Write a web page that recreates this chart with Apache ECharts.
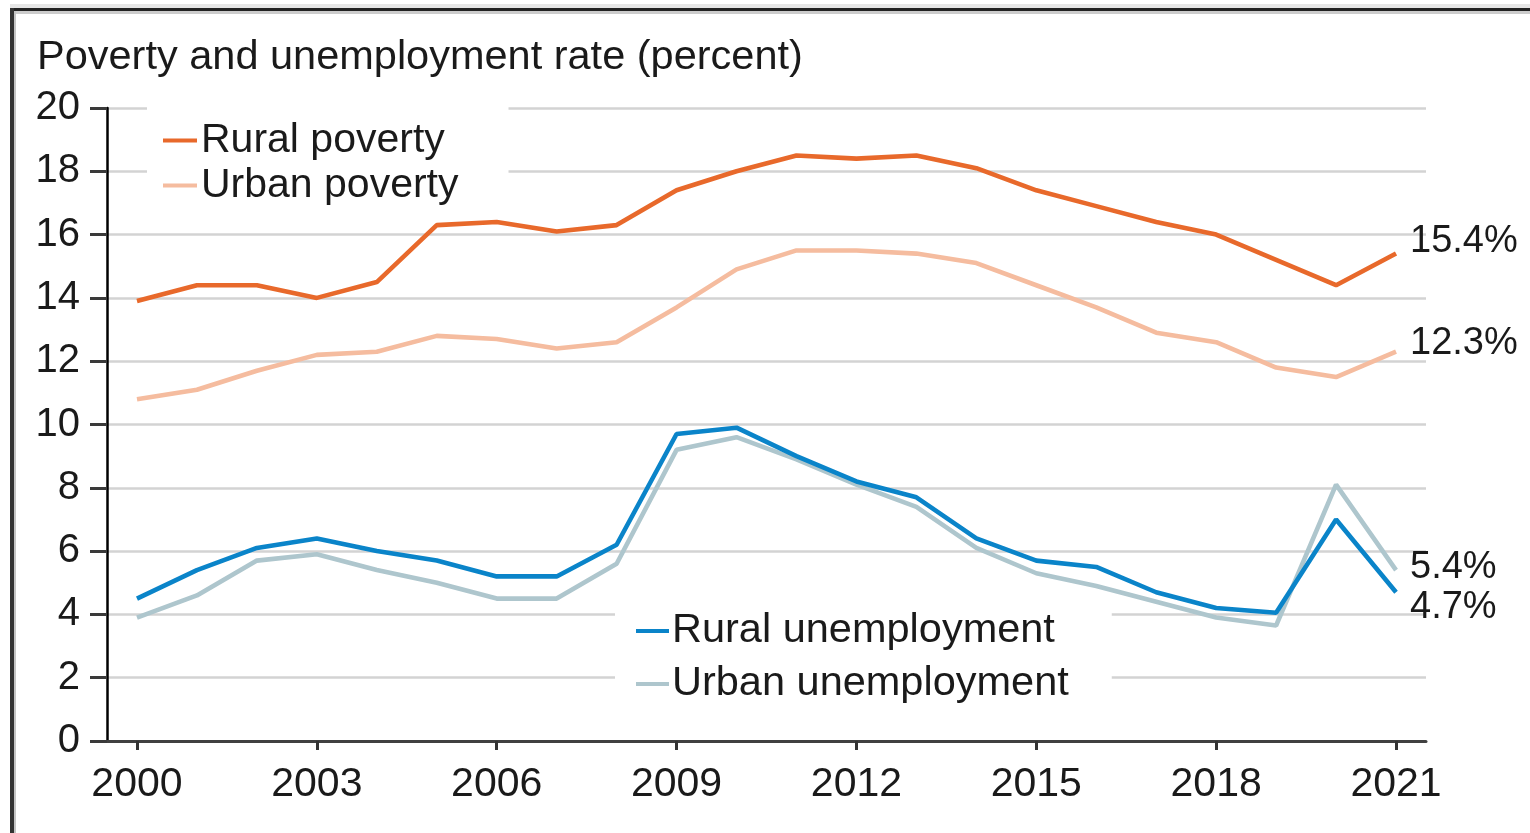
<!DOCTYPE html>
<html>
<head>
<meta charset="utf-8">
<script src="https://cdn.jsdelivr.net/npm/echarts@6/dist/echarts.min.js"></script>
<style>
html,body{margin:0;padding:0;background:#fff;}
#chart{width:1530px;height:833px;}
</style>
</head>
<body>
<div id="chart"></div>
<script>
const years = ['2000','2001','2002','2003','2004','2005','2006','2007','2008','2009','2010','2011','2012','2013','2014','2015','2016','2017','2018','2019','2020','2021'];
const ruralPoverty = [13.9,14.4,14.4,14.0,14.5,16.3,16.4,16.1,16.3,17.4,18.0,18.5,18.4,18.5,18.1,17.4,16.9,16.4,16.0,15.2,14.4,15.4];
const urbanPoverty = [10.8,11.1,11.7,12.2,12.3,12.8,12.7,12.4,12.6,13.7,14.9,15.5,15.5,15.4,15.1,14.4,13.7,12.9,12.6,11.8,11.5,12.3];
const ruralUnemployment = [4.5,5.4,6.1,6.4,6.0,5.7,5.2,5.2,6.2,9.7,9.9,9.0,8.2,7.7,6.4,5.7,5.5,4.7,4.2,4.05,7.0,4.7];
const urbanUnemployment = [3.9,4.6,5.7,5.9,5.4,5.0,4.5,4.5,5.6,9.2,9.6,8.9,8.1,7.4,6.1,5.3,4.9,4.4,3.9,3.65,8.1,5.4];
const yTicks = [0,2,4,6,8,10,12,14,16,18,20];

const FONT = '"Liberation Sans", Arial, sans-serif';
const TXT = '#1a1a1a';

const chart = echarts.init(document.getElementById('chart'), null, {renderer:'canvas'});

function lineSeries(name, data, color, labelOffset) {
  return {
    name: name,
    type: 'line',
    data: data,
    symbol: 'none',
    smooth: false,
    lineStyle: {color: color, width: 4.6},
    itemStyle: {color: color},
    emphasis: {disabled: true},
    endLabel: {
      show: true,
      formatter: function(p){ return p.value.toFixed(1) + '%'; },
      color: TXT,
      fontFamily: FONT,
      fontSize: 38,
      distance: 14,
      offset: [0, labelOffset]
    },
    z: 3
  };
}

const option = {
  animation: false,
  backgroundColor: '#fff',
  title: {
    text: 'Poverty and unemployment rate (percent)',
    left: 37,
    top: 37,
    padding: 0,
    textStyle: {fontFamily: FONT, fontSize: 41.5, fontWeight: 'normal', color: TXT}
  },
  grid: {left: 107, right: 104, top: 108, bottom: 92, containLabel: false},
  xAxis: {
    type: 'category',
    data: years,
    boundaryGap: true,
    axisLine: {show: true, lineStyle: {color: '#404040', width: 3}},
    axisTick: {show: true, interval: 2, alignWithLabel: true, length: 9, lineStyle: {color: '#333', width: 3}},
    axisLabel: {interval: 2, fontFamily: FONT, fontSize: 41, color: TXT, margin: 23},
    splitLine: {show: false}
  },
  yAxis: {
    type: 'value',
    min: 0,
    max: 20,
    interval: 2,
    axisLine: {show: true, lineStyle: {color: '#000', width: 2.5}},
    axisTick: {show: true, length: 17, lineStyle: {color: '#3a3a3a', width: 3}},
    axisLabel: {fontFamily: FONT, fontSize: 40, color: TXT, margin: 27,
      formatter: function(v){ return yTicks.indexOf(v) >= 0 ? String(v) : ''; }},
    splitLine: {show: true, lineStyle: {color: '#d3d3d3', width: 2.5}}
  },
  legend: [
    {
      data: ['Rural poverty', 'Urban poverty'],
      orient: 'vertical',
      left: 147,
      top: 106,
      padding: [14, 50, 10, 16],
      itemGap: 4,
      itemWidth: 34,
      itemHeight: 4,
      icon: 'rect',
      backgroundColor: '#fff',
      selectedMode: false,
      textStyle: {fontFamily: FONT, fontSize: 41, color: TXT, padding: [0,0,0,-1]}
    },
    {
      data: ['Rural unemployment', 'Urban unemployment'],
      orient: 'vertical',
      left: 615,
      top: 597,
      padding: [13, 43, 20, 21],
      itemGap: 11,
      itemWidth: 33,
      itemHeight: 4,
      icon: 'rect',
      backgroundColor: '#fff',
      selectedMode: false,
      textStyle: {fontFamily: FONT, fontSize: 41.5, color: TXT, padding: [0,0,0,-2]}
    }
  ],
  series: [
    lineSeries('Urban unemployment', urbanUnemployment, '#aec6cd', -3),
    lineSeries('Rural unemployment', ruralUnemployment, '#0a84c9', 15),
    lineSeries('Urban poverty', urbanPoverty, '#f5bc9f', -8),
    lineSeries('Rural poverty', ruralPoverty, '#e8692b', -12)
  ],
  graphic: [
    {type: 'rect', shape: {x: 10, y: 4, width: 1520, height: 4}, style: {fill: '#e6e6e6'}, silent: true},
    {type: 'rect', shape: {x: 10, y: 8, width: 1520, height: 3}, style: {fill: '#222'}, silent: true},
    {type: 'rect', shape: {x: 13, y: 11, width: 1517, height: 3}, style: {fill: '#cccccc'}, silent: true},
    {type: 'rect', shape: {x: 10, y: 8, width: 4, height: 825}, style: {fill: '#333'}, silent: true},
    {type: 'rect', shape: {x: 14, y: 11, width: 2, height: 822}, style: {fill: '#c4c4c4'}, silent: true}
  ]
};

chart.setOption(option);
</script>
</body>
</html>
